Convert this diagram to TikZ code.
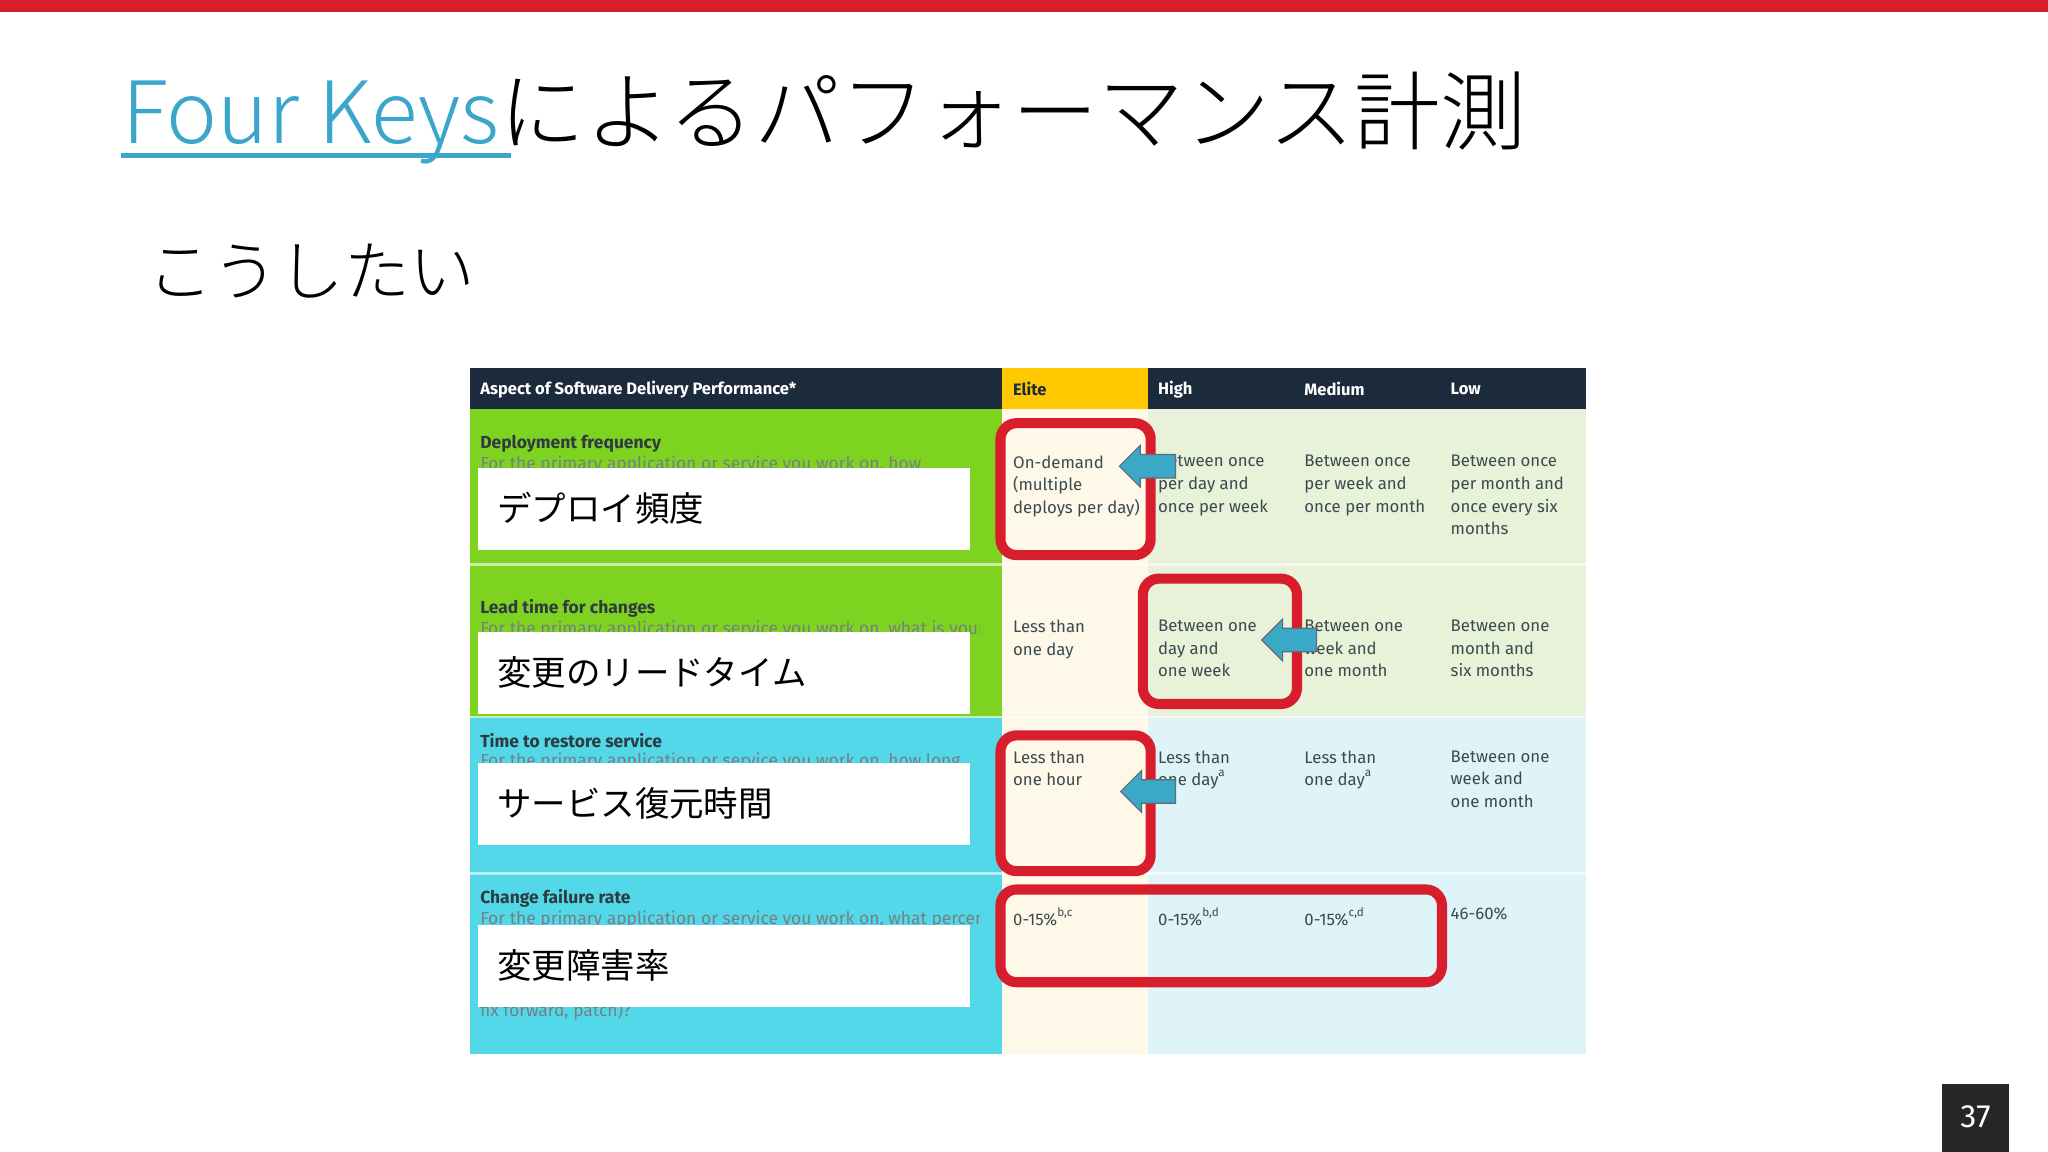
\documentclass[tikz,border=0pt]{standalone}
\usepackage{fontspec}
\setmainfont{Fira Sans}
\newfontfamily\jp{Noto Sans CJK JP}
\newfontfamily\jpl{Noto Sans CJK JP Light}
\definecolor{navy}{HTML}{1B2B3B}
\definecolor{gold}{HTML}{FFC800}
\definecolor{lime}{HTML}{7ED321}
\definecolor{aqua}{HTML}{52D8E8}
\definecolor{cream}{HTML}{FDF8E8}
\definecolor{pgreen}{HTML}{E7F2D8}
\definecolor{pblue}{HTML}{DFF4F8}
\definecolor{redc}{HTML}{D81E2C}
\definecolor{arrowc}{HTML}{3AA9C8}
\definecolor{linkc}{HTML}{3AA6CC}
\definecolor{txt}{HTML}{3A4A50}
\tikzset{
 hd/.style={font=\fontsize{3.6}{4}\selectfont\bfseries,text=white,anchor=west,inner sep=0},
 cell/.style={font=\fontsize{3.65}{4.9}\selectfont,text=txt,anchor=north west,inner sep=0,align=left},
 rowt/.style={font=\fontsize{3.8}{4.5}\selectfont\bfseries,text=txt!80!black,anchor=west,inner sep=0},
 rows/.style={font=\fontsize{3.8}{4.5}\selectfont,text=txt!70,anchor=west,inner sep=0},
 jlab/.style={font=\jp\fontsize{7.5}{8}\selectfont,anchor=west,inner sep=0},
 redbox/.style={draw=redc,line width=2.2pt,rounded corners=3.5pt},
 larrow/.style={fill=arrowc,draw=navy!70,line width=0.25pt},
}
\begin{document}
\begin{tikzpicture}[x=0.01cm,y=-0.01cm]
\useasboundingbox (0,0) rectangle (1568,882);
\fill[white] (0,0) rectangle (1568,882);
\fill[redc] (0,0) rectangle (1568,9);
% title
\node[anchor=base west,inner sep=0,font=\jpl\fontsize{18.7}{20}\selectfont] (title) at (93,110)
 {\textcolor{linkc}{Four Keys}によるパフォーマンス計測};
\draw[linkc,line width=1.2pt] (93,119) -- (391,119);
\node[anchor=base west,inner sep=0,font=\jpl\fontsize{14.3}{15}\selectfont] (sub) at (112,226) {こうしたい};
% table backgrounds
\fill[navy] (360,282) rectangle (1214,313);
\fill[gold] (767,282) rectangle (879,313);
\fill[lime] (360,313) rectangle (767,549);
\fill[aqua] (360,549) rectangle (767,807);
\fill[cream] (767,313) rectangle (879,807);
\fill[pgreen] (879,313) rectangle (1214,549);
\fill[pblue] (879,549) rectangle (1214,807);
\foreach \y in {432,549,669}{\draw[white,opacity=0.6,line width=0.6pt] (360,\y) -- (1214,\y);}
% header
\node[hd] (h0) at (367,298) {Aspect of Software Delivery Performance*};
\node[hd,text=navy] (h1) at (775,298) {Elite};
\node[hd] (h2) at (886,298) {High};
\node[hd] (h3) at (998,298) {Medium};
\node[hd] (h4) at (1110,298) {Low};
% row titles
\node[rowt] (r1) at (367,340) {Deployment frequency};
\node[rowt] (r2) at (367,466) {Lead time for changes};
\node[rowt] (r3) at (367,567) {Time to restore service};
\node[rowt] (r4) at (367,688) {Change failure rate};
\begin{scope}
\clip (360,313) rectangle (750,807);
\node[rows] (r1s) at (367,356) {For the primary application or service you work on, how};
\node[rows] (r2s) at (367,482) {For the primary application or service you work on, what is your};
\node[rows] (r3s) at (367,583) {For the primary application or service you work on, how long};
\node[rows] (r4s) at (367,704) {For the primary application or service you work on, what percentage};
\node[rows] (r4e) at (367,774) {fix forward, patch)?};
\end{scope}
% white label boxes
\fill[white] (366,358) rectangle (743,421);
\fill[white] (366,484) rectangle (743,547);
\fill[white] (366,584) rectangle (743,647);
\fill[white] (366,708) rectangle (743,771);
\node[jlab] (j1) at (380,389) {デプロイ頻度};
\node[jlab] (j2) at (380,515) {変更のリードタイム};
\node[jlab] (j3) at (380,615) {サービス復元時間};
\node[jlab] (j4) at (380,739) {変更障害率};
% cells
\node[cell] (c11) at (775,348) {On-demand\\(multiple\\deploys per day)};
\node[cell] (c12) at (886,348) {Between once\\per day and\\once per week};
\node[cell] (c13) at (998,348) {Between once\\per week and\\once per month};
\node[cell] (c14) at (1110,348) {Between once\\per month and\\once every six\\months};
\node[cell] (c21) at (775,474) {Less than\\one day};
\node[cell] (c22) at (886,474) {Between one\\day and\\one week};
\node[cell] (c23) at (998,474) {Between one\\week and\\one month};
\node[cell] (c24) at (1110,474) {Between one\\month and\\six months};
\node[cell] (c31) at (775,574) {Less than\\one hour};
\node[cell] (c32) at (886,574) {Less than\\one day\textsuperscript{a}};
\node[cell] (c33) at (998,574) {Less than\\one day\textsuperscript{a}};
\node[cell] (c34) at (1110,574) {Between one\\week and\\one month};
\node[cell] (c41) at (775,694) {0-15\%\textsuperscript{b,c}};
\node[cell] (c42) at (886,694) {0-15\%\textsuperscript{b,d}};
\node[cell] (c43) at (998,694) {0-15\%\textsuperscript{c,d}};
\node[cell] (c44) at (1110,694) {46-60\%};
% red frames
\draw[redbox] (766,324) rectangle (881,425);
\draw[redbox] (875,443) rectangle (993,539);
\draw[redbox] (766,563) rectangle (881,667);
\draw[redbox] (766,681) rectangle (1104,752);
% arrows
\foreach \tx/\ty/\ex in {857/357/900, 966/490/1008, 858/606/900}{
 \draw[larrow] (\tx,\ty) -- (\tx+16,\ty-16) -- (\tx+16,\ty-9) -- (\ex,\ty-9) -- (\ex,\ty+9) -- (\tx+16,\ty+9) -- (\tx+16,\ty+16) -- cycle;
}
% page number
\fill[black!85] (1487,830) rectangle (1538,882);
\node[text=white,font=\fontsize{7}{8}\selectfont] (pg) at (1512.5,855) {37};
\end{tikzpicture}
\end{document}
